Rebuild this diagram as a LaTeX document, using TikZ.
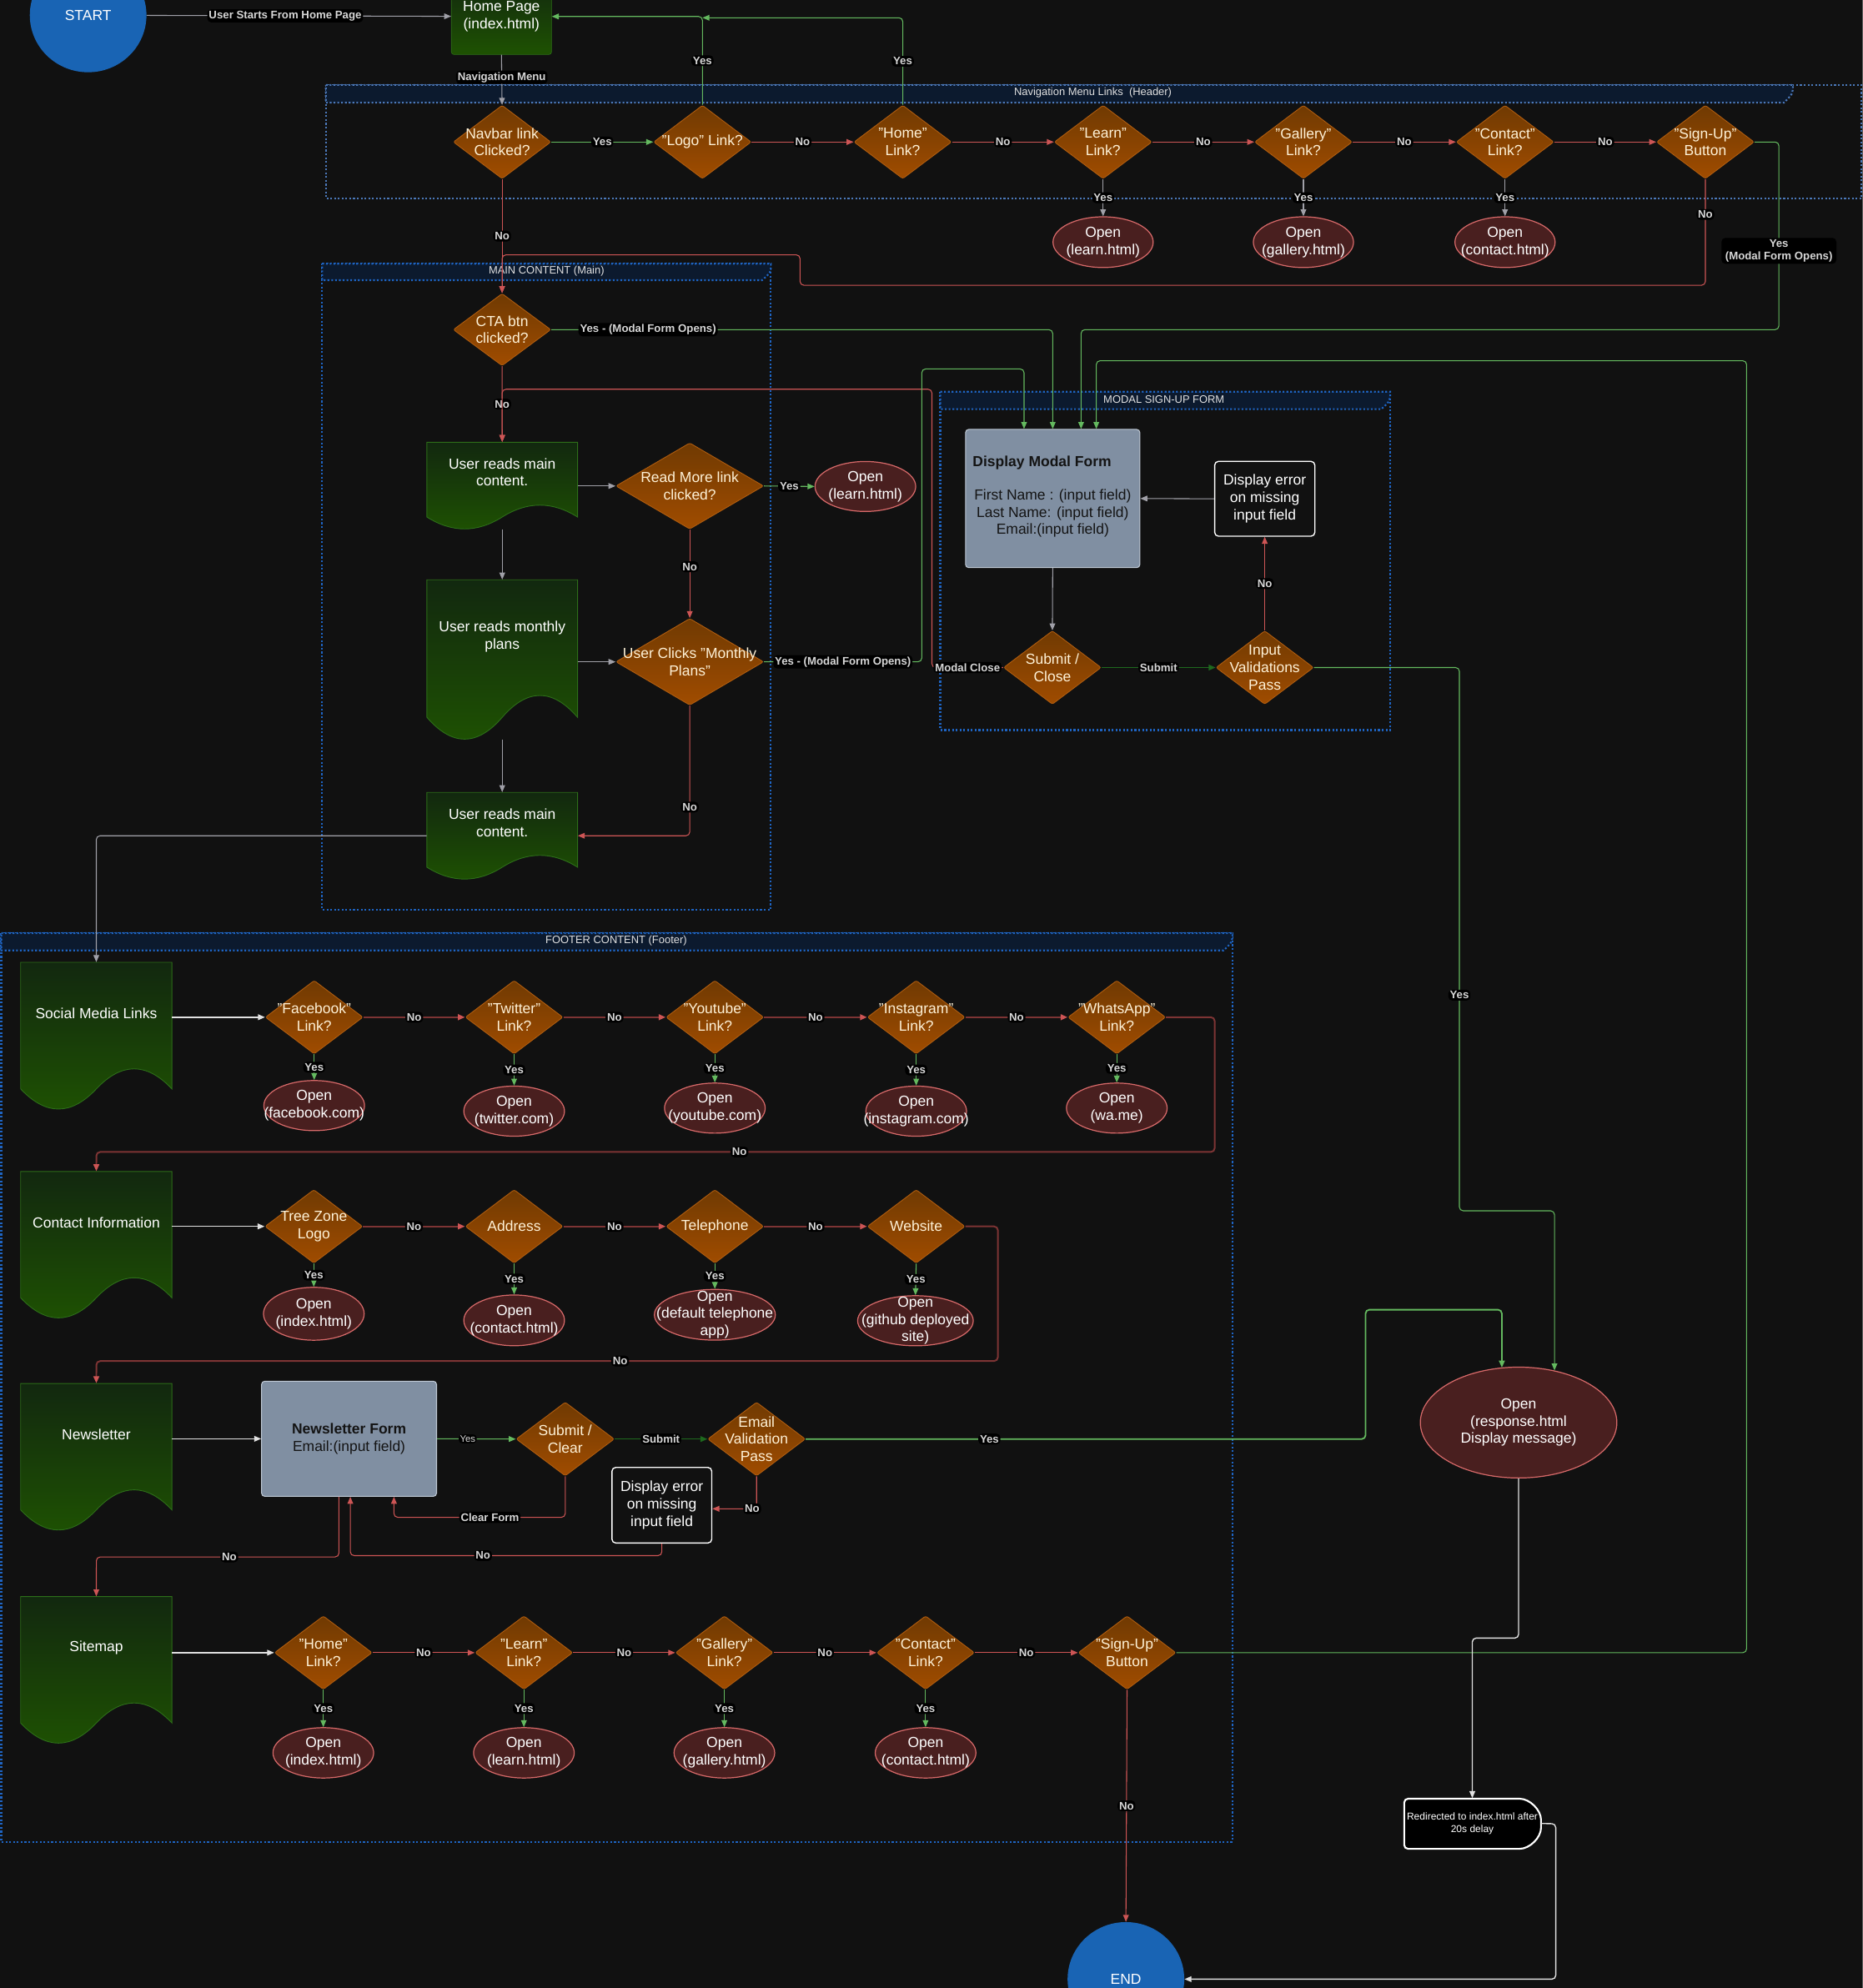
\documentclass[tikz,border=0pt]{standalone}
\usepackage{fontspec}
\setmainfont{Liberation Sans}
\usetikzlibrary{shapes.geometric,arrows.meta,calc}
\definecolor{bgc}{RGB}{17,17,17}
\definecolor{bluec}{RGB}{25,100,180}
\definecolor{contc}{RGB}{30,100,195}
\definecolor{contnav}{RGB}{75,120,185}
\definecolor{headc}{RGB}{12,26,46}
\definecolor{diatop}{RGB}{112,58,2}
\definecolor{diabot}{RGB}{160,76,0}
\definecolor{diabd}{RGB}{175,92,15}
\definecolor{diatx}{RGB}{255,242,215}
\definecolor{ofill}{RGB}{73,31,31}
\definecolor{obd}{RGB}{215,105,105}
\definecolor{doctop}{RGB}{18,40,15}
\definecolor{docbot}{RGB}{30,82,2}
\definecolor{docbd}{RGB}{45,110,25}
\definecolor{formc}{RGB}{128,143,162}
\definecolor{formbd}{RGB}{190,200,212}
\definecolor{darktx}{RGB}{20,20,20}
\definecolor{grayc}{RGB}{160,160,168}
\definecolor{whitec}{RGB}{225,225,225}
\definecolor{greenc}{RGB}{100,185,95}
\definecolor{dgreenc}{RGB}{30,105,30}
\definecolor{redc}{RGB}{205,85,85}
\definecolor{dredc}{RGB}{125,52,52}
\definecolor{lblc}{RGB}{215,215,215}
\newcommand\rsfont{\fontsize{11.5}{13.6}\selectfont}
\newcommand\rslfont{\bfseries\fontsize{8.7}{10.2}\selectfont}
\tikzset{
  conn/.style={line width=0.7pt, rounded corners=3pt},
  gline/.style={conn, draw=grayc, -{Triangle[length=5.5pt,width=4.5pt]}},
  wline/.style={conn, draw=whitec, line width=0.9pt, -{Triangle[length=5.5pt,width=4.5pt]}},
  grline/.style={conn, draw=greenc, -{Triangle[length=5.5pt,width=4.5pt]}},
  dgline/.style={conn, draw=dgreenc, line width=1pt, -{Triangle[length=5.5pt,width=4.5pt]}},
  rline/.style={conn, draw=redc, -{Triangle[length=5.5pt,width=4.5pt]}},
  drline/.style={conn, draw=dredc, line width=1.3pt, -{Triangle[length=5.5pt,width=4.5pt,color=redc]}},
  lbl/.style={fill=black, text=lblc, inner sep=1.2pt, font=\rslfont, align=center},
  lbltwo/.style={fill=black, text=lblc, inner sep=1pt, font=\fontsize{7.5}{8.5}\selectfont},
  cont/.style={draw=contc, line width=1.4pt, dash pattern=on 1.4pt off 1.6pt},
  head/.style={cont, fill=headc},
  ctitle/.style={text=whitec, font=\fontsize{8.5}{9.5}\selectfont, inner sep=0pt},
  diashape/.style={diamond, draw=diabd, top color=diatop, bottom color=diabot, inner sep=0pt, line width=0.6pt, rounded corners=1.5pt},
  diatext/.style={text=diatx, font=\rsfont, align=center, inner sep=0pt},
  oshape/.style={ellipse, draw=obd, fill=ofill, inner sep=0pt, line width=0.8pt},
  otext/.style={text=white, font=\rsfont, align=center, inner sep=0pt},
  docfill/.style={draw=docbd, top color=doctop, bottom color=docbot, line width=0.6pt},
  docanchor/.style={rectangle, inner sep=0pt},
  doctext/.style={text=white, font=\rsfont, align=center, inner sep=0pt},
  formbox/.style={rectangle, rounded corners=2.5pt, draw=formbd, fill=formc, inner sep=0pt, line width=0.7pt},
  errbox/.style={rectangle, rounded corners=3pt, draw=white, fill=bgc, line width=0.9pt, text=white, align=center, font=\rsfont, inner sep=0pt},
  term/.style={ellipse, fill=bluec, inner sep=0pt, text=white, font=\rsfont}
}
\newcommand\dnode[6]{%
  \node[diashape, minimum width=#4pt, minimum height=#5pt] (#1) at (#2,#3) {};
  \node[diatext] (#1-t) at (#1) {#6};}
\newcommand\onode[6]{%
  \node[oshape, minimum width=#4pt, minimum height=#5pt] (#1) at (#2,#3) {};
  \node[otext] (#1-t) at (#1) {#6};}
\newcommand\docnode[7]{%
  \pgfmathsetmacro\rsR{#2+#4}%
  \pgfmathsetmacro\rsS{#3+0.85*#5}%
  \pgfmathsetmacro\rsU{\rsS-0.18*#5}%
  \pgfmathsetmacro\rsD{\rsS+0.18*#5}%
  \pgfmathsetmacro\rsA{#2+#4*5/6}%
  \pgfmathsetmacro\rsB{#2+#4*2/3}%
  \pgfmathsetmacro\rsM{#2+#4/2}%
  \pgfmathsetmacro\rsC{#2+#4/3}%
  \pgfmathsetmacro\rsE{#2+#4/6}%
  \pgfmathsetmacro\rsY{#3+0.4925*#5}%
  \path[docfill] (#2,#3) -- (\rsR,#3) -- (\rsR,\rsS) .. controls (\rsA,\rsU) and (\rsB,\rsU) .. (\rsM,\rsS) .. controls (\rsC,\rsD) and (\rsE,\rsD) .. (#2,\rsS) -- cycle;
  \node[docanchor, minimum width=#4pt, minimum height=0.985*#5pt] (#1) at (\rsM,\rsY) {};
  \node[doctext] (#1-t) at (\rsM,#7) {#6};}
\begin{document}
\begin{tikzpicture}[x=1pt,y=-1pt]
\clip (0,0) rectangle (1469,1568);
\fill[bgc] (0,0) rectangle (1469,1568);

% ---------- containers ----------
\draw[cont, draw=contnav] (257,67) rectangle (1468,156.5);
\path[head, draw=contnav] (257,67) -- (1414,67) .. controls (1414,74) .. (1407,81) -- (257,81) -- cycle;
\node[ctitle] (navtitle) at (862,73) {Navigation Menu Links\ \ (Header)};

\draw[cont] (254,208) rectangle (608,717.5);
\path[head] (254,208) -- (608,208) .. controls (608,215) .. (601,221) -- (254,221) -- cycle;
\node[ctitle] (maintitle) at (431,214) {MAIN CONTENT (Main)};

\draw[cont] (741.6,309) rectangle (1096.5,575.8);
\path[head] (741.6,309) -- (1096.5,309) .. controls (1096.5,316) .. (1089.5,322.7) -- (741.6,322.7) -- cycle;
\node[ctitle] (modaltitle) at (918,315) {MODAL SIGN-UP FORM};

\draw[cont] (1,736) rectangle (972,1452.6);
\path[head] (1,736) -- (972,736) .. controls (972,743) .. (965,749.6) -- (1,749.6) -- cycle;
\node[ctitle] (foottitle) at (486,742) {FOOTER CONTENT (Footer)};

% ---------- top ----------
\node[term, minimum width=92pt, minimum height=90pt] (start) at (69.5,12) {START};
\node[rectangle, rounded corners=2pt, draw=docbd, top color=doctop, bottom color=docbot, minimum width=79pt, minimum height=60pt, inner sep=0pt, text=white, font=\rsfont, align=center] (hp) at (395.5,13) {Home Page\\(index.html)};

\dnode{nav}{396}{112}{77}{58}{Navbar link\\Clicked?}
\dnode{logo}{554}{112}{77}{58}{"Logo" Link?}
\dnode{home}{712}{112}{77}{58}{"Home"\\Link?}
\dnode{learn}{870}{112}{77}{58}{"Learn"\\Link?}
\dnode{gallery}{1028}{112}{77}{58}{"Gallery"\\Link?}
\dnode{contact}{1187}{112}{77}{58}{"Contact"\\Link?}
\dnode{signup}{1345}{112}{77}{58}{"Sign-Up"\\Button}
\onode{olearn}{870}{191}{79}{40}{Open\\(learn.html)}
\onode{ogallery}{1028}{191}{79}{40}{Open\\(gallery.html)}
\onode{ocontact}{1187}{191}{79}{40}{Open\\(contact.html)}

% ---------- main ----------
\dnode{cta}{396}{260}{77}{57}{CTA btn\\clicked?}
\docnode{doca}{336.7}{348.8}{118.8}{69.4}{User reads main\\content.}{372.5}
\docnode{docb}{336.7}{457.3}{118.8}{127.6}{User reads monthly\\plans}{502}
\docnode{docc}{336.7}{625}{118.8}{69.4}{User reads main\\content.}{649}
\dnode{rm}{544}{383.3}{116.5}{68}{Read More link\\clicked?}
\dnode{mp}{544}{522}{116.5}{68.4}{User Clicks "Monthly\\Plans"}
\onode{olearnb}{682.5}{383.7}{79.4}{39.4}{Open\\(learn.html)}

% ---------- modal ----------
\node[formbox, minimum width=137.5pt, minimum height=109pt] (modal) at (830.25,393.2) {};
\node[anchor=west, text=darktx, font=\bfseries\rsfont, inner sep=0pt] (modalta) at (767,365) {Display Modal Form};
\node[text=darktx, font=\rsfont, align=center, inner sep=0pt] (modaltb) at (830.25,405) {First Name : (input field)\\Last Name: (input field)\\Email:(input field)};
\node[errbox, minimum width=79pt, minimum height=59pt] (erra) at (997.5,393.4) {Display error\\on missing\\input field};
\dnode{sca}{830}{526.5}{77}{58}{Submit /\\Close}
\dnode{iv}{997.5}{526.5}{77}{58}{Input\\Validations\\Pass}

% ---------- footer: social ----------
\docnode{dsoc}{16.3}{759}{119.3}{117.5}{Social Media Links}{799.2}
\dnode{fb}{247.8}{802.3}{77}{58}{"Facebook"\\Link?}
\dnode{tw}{405.5}{802.3}{77}{58}{"Twitter"\\Link?}
\dnode{yt}{563.8}{802.3}{77}{58}{"Youtube"\\Link?}
\dnode{ig}{722.6}{802.3}{77}{58}{"Instagram"\\Link?}
\dnode{wa}{880.8}{802.3}{77}{58}{"WhatsApp"\\Link?}
\onode{ofb}{247.8}{872}{79.4}{39.5}{Open\\(facebook.com)}
\onode{otw}{405.5}{876.4}{79.4}{39.5}{Open\\(twitter.com)}
\onode{oyt}{563.8}{874}{79.4}{39.5}{Open\\(youtube.com)}
\onode{oig}{722.6}{876.4}{79.4}{39.5}{Open\\(instagram.com)}
\onode{owa}{880.8}{874}{79.4}{39.5}{Open\\(wa.me)}

% ---------- footer: contact ----------
\docnode{dcon}{16.3}{924}{119.3}{117.2}{Contact Information}{964.5}
\dnode{tz}{247.5}{967.3}{77}{58}{Tree Zone\\Logo}
\dnode{addr}{405.5}{967.3}{77}{58}{Address}
\dnode{tel}{563.8}{967.3}{77}{58}{Telephone}
\dnode{web}{722.6}{967.3}{77}{58}{Website}
\onode{otz}{247.5}{1036.2}{79.4}{41.7}{Open\\(index.html)}
\onode{oaddr}{405.5}{1041.4}{79.4}{40}{Open\\(contact.html)}
\onode{otel}{563.8}{1037}{95.4}{40}{Open\\(default telephone\\app)}
\onode{oweb}{722}{1041.7}{91.2}{39.5}{Open\\(github deployed\\site)}

% ---------- footer: newsletter ----------
\docnode{dnews}{16.3}{1091.2}{119.3}{117.3}{Newsletter}{1131.5}
\node[formbox, minimum width=138pt, minimum height=90.8pt, text=darktx, font=\rsfont, align=center] (nform) at (275.3,1134.8) {\textbf{Newsletter Form}\\Email:(input field)};
\dnode{scb}{445.8}{1135}{77.4}{58.2}{Submit /\\Clear}
\dnode{ev}{596.7}{1135}{77}{58.2}{Email\\Validation\\Pass}
\node[errbox, minimum width=78.7pt, minimum height=59.6pt] (errb) at (522,1187.2) {Display error\\on missing\\input field};

% ---------- footer: sitemap ----------
\docnode{dsite}{16.3}{1259.3}{119.3}{117.3}{Sitemap}{1299.9}
\dnode{shome}{255}{1303.5}{77}{58}{"Home"\\Link?}
\dnode{slearn}{413.2}{1303.5}{77}{58}{"Learn"\\Link?}
\dnode{sgal}{571.3}{1303.5}{77}{58}{"Gallery"\\Link?}
\dnode{scon}{730}{1303.5}{77}{58}{"Contact"\\Link?}
\dnode{ssign}{888.9}{1303.5}{77}{58}{"Sign-Up"\\Button}
\onode{oshome}{255}{1382.5}{79.4}{39.7}{Open\\(index.html)}
\onode{oslearn}{413.2}{1382.5}{79.4}{39.7}{Open\\(learn.html)}
\onode{osgal}{571.3}{1382.5}{79.4}{39.7}{Open\\(gallery.html)}
\onode{oscon}{730}{1382.5}{79.4}{39.7}{Open\\(contact.html)}

% ---------- right side ----------
\node[oshape, minimum width=155pt, minimum height=87.4pt] (resp) at (1197.7,1122) {};
\node[otext] (resptx) at (resp) {Open\\(response.html\\Display message)};
\filldraw[draw=white, fill=black, line width=1.4pt, rounded corners=3pt] (1195.5,1418.7) .. controls (1206.5,1418.7) and (1215.4,1427.5) .. (1215.4,1438.45) .. controls (1215.4,1449.4) and (1206.5,1458.2) .. (1195.5,1458.2) -- (1107.5,1458.2) -- (1107.5,1418.7) -- cycle;
\node[inner sep=0pt, minimum width=108pt, minimum height=39.5pt, text=white, font=\fontsize{7.9}{9.8}\selectfont, align=center] (redirect) at (1161.2,1438.2) {Redirected to index.html after\\20s delay};
\node[term, minimum width=92pt, minimum height=90pt] (endn) at (888,1561) {END};

\coordinate (mIna) at ($(modal.north west)+(46.5,0)$);
\coordinate (mInc) at ($(modal.north west)+(91.5,0)$);
\coordinate (mInd) at ($(modal.north west)+(103.5,0)$);
\coordinate (jn) at (554,14);

% ---------- connectors: top ----------
\draw[gline] (start) -- node[lbl,pos=0.455] (la) {User Starts From Home Page} (hp);
\draw[gline] (hp.south) -- node[lbl,pos=0.45] (lb) {Navigation Menu} (nav.north);
\draw[grline] (nav.east) -- node[lbl] (lc) {Yes} (logo.west);
\draw[rline] (logo.east) -- node[lbl] (ld) {No} (home.west);
\draw[rline] (home.east) -- node[lbl] (le) {No} (learn.west);
\draw[rline] (learn.east) -- node[lbl] (lf) {No} (gallery.west);
\draw[rline] (gallery.east) -- node[lbl] (lg) {No} (contact.west);
\draw[rline] (contact.east) -- node[lbl] (lh) {No} (signup.west);
\draw[grline] (logo.north) |- node[lbl,pos=0.25] (li) {Yes} (hp.east);
\draw[grline] (home.north) |- node[lbl,pos=0.25] (lj) {Yes} (jn);
\draw[gline] (learn.south) -- node[lbl] (lk) {Yes} (olearn.north);
\draw[gline] (gallery.south) -- node[lbl] (ll) {Yes} (ogallery.north);
\draw[gline] (contact.south) -- node[lbl] (lm) {Yes} (ocontact.north);
\draw[rline] (nav.south) -- node[lbl] (ln) {No} (cta.north);
\draw[rline] (signup.south) -- node[lbl,pos=0.333] (lo) {No} (1345,225) -- (631,225) -- (631,201) -- (396,201) -- (cta.north);
\draw[grline] (signup.east) -- (1403,112) -- node[lbl,pos=0.58,inner xsep=3pt] (lp) {Yes\\(Modal Form Opens)} (1403,260) -| (mInc);

% ---------- connectors: main ----------
\draw[grline] (cta.east) -- node[lbl,pos=0.193] (lq) {Yes - (Modal Form Opens)} (cta.east -| modal.north) -- (modal.north);
\draw[rline] (cta.south) -- node[lbl] (lr) {No} (doca.north);
\draw[rline] (sca.west) -- node[lbl] (ls) {Modal Close} (735,526.5) -- (735,307) -- (396,307) -- (doca.north);
\draw[gline] (doca.east |- rm.west) -- (rm.west);
\draw[grline] (rm.east) -- node[lbl] (lt) {Yes} (olearnb.west);
\draw[rline] (rm.south) -- node[lbl,pos=0.42] (lu) {No} (mp.north);
\draw[gline] (doca.south) -- (docb.north);
\draw[gline] (docb.east |- mp.west) -- (mp.west);
\draw[gline] (docb.south) -- (docc.north);
\draw[rline] (mp.south) |- node[lbl,pos=0.39] (lv) {No} (docc.east);
\draw[grline] (mp.east) -- node[lbl] (lw) {Yes - (Modal Form Opens)} (727,522) -- (727,291) -| (mIna);
\draw[gline] (docc.west) -| (dsoc.north);

% ---------- connectors: modal ----------
\draw[gline] (erra.west) -- (modal.east);
\draw[gline] (modal.south) -- (sca.north);
\draw[dgline] (sca.east) -- node[lbl] (lx) {Submit} (iv.west);
\draw[rline] (iv.north) -- node[lbl] (ly) {No} (erra.south);
\draw[grline] (iv.east) -- (1151,526.5) -- node[lbl,pos=0.603] (lz) {Yes} (1151,955) -| ($(resp.north)+(28.3,3)$);

% ---------- connectors: social ----------
\draw[wline] (dsoc.east |- fb.west) -- (fb.west);
\draw[drline] (fb.east) -- node[lbl] (sa) {No} (tw.west);
\draw[drline] (tw.east) -- node[lbl] (sb) {No} (yt.west);
\draw[drline] (yt.east) -- node[lbl] (sc) {No} (ig.west);
\draw[drline] (ig.east) -- node[lbl] (sd) {No} (wa.west);
\draw[grline] (fb.south) -- node[lbl] (se) {Yes} (ofb.north);
\draw[grline] (tw.south) -- node[lbl] (sf) {Yes} (otw.north);
\draw[grline] (yt.south) -- node[lbl] (sg) {Yes} (oyt.north);
\draw[grline] (ig.south) -- node[lbl] (sh) {Yes} (oig.north);
\draw[grline] (wa.south) -- node[lbl] (si) {Yes} (owa.north);
\draw[drline] (wa.east) -- (958,802.3) -- (958,908.6) -- node[lbl,pos=0.425] (sj) {No} (76,908.6) -- (dcon.north);

% ---------- connectors: contact ----------
\draw[wline] (dcon.east |- tz.west) -- (tz.west);
\draw[drline] (tz.east) -- node[lbl] (ca) {No} (addr.west);
\draw[drline] (addr.east) -- node[lbl] (cb) {No} (tel.west);
\draw[drline] (tel.east) -- node[lbl] (cc) {No} (web.west);
\draw[grline] (tz.south) -- node[lbl] (cd) {Yes} (otz.north);
\draw[grline] (addr.south) -- node[lbl] (ce) {Yes} (oaddr.north);
\draw[grline] (tel.south) -- node[lbl] (cf) {Yes} (otel.north);
\draw[grline] (web.south) -- node[lbl] (cg) {Yes} (oweb.north);
\draw[drline] (web.east) -- (787,967.3) -- (787,1073.5) -- node[lbl,pos=0.419] (ch) {No} (76,1073.5) -- (dnews.north);

% ---------- connectors: newsletter ----------
\draw[wline] (dnews.east |- nform.west) -- (nform.west);
\draw[grline] (nform.east) -- node[lbltwo,pos=0.39] (na) {Yes} (scb.west);
\draw[dgline] (scb.east) -- node[lbl] (nb) {Submit} (ev.west);
\draw[grline, line width=1.2pt] (ev.east) -- node[lbl,pos=0.328] (nc) {Yes} (1077,1135) -- (1077,1033) -| ($(resp.north)+(-13.2,0.8)$);
\draw[rline] (ev.south) |- node[lbl,pos=0.55] (nd) {No} ([yshift=-2.8pt]errb.east);
\draw[rline] (scb.south) |- node[lbl,pos=0.72] (ne) {Clear Form} ($(nform.south)+(35.4,16.2)$) -- ($(nform.south)+(35.4,0)$);
\draw[rline] (errb.south) |- node[lbl,pos=0.787] (nf) {No} ($(nform.south)+(1,46.4)$) -- ($(nform.south)+(1,0)$);
\draw[rline] ($(nform.south)+(-8,0)$) |- node[lbl,pos=0.726] (ng) {No} (76,1228) -- (dsite.north);

% ---------- connectors: sitemap ----------
\draw[wline] (dsite.east |- shome.west) -- (shome.west);
\draw[rline] (shome.east) -- node[lbl] (ma) {No} (slearn.west);
\draw[rline] (slearn.east) -- node[lbl] (mb) {No} (sgal.west);
\draw[rline] (sgal.east) -- node[lbl] (mc) {No} (scon.west);
\draw[rline] (scon.east) -- node[lbl] (md) {No} (ssign.west);
\draw[grline] (shome.south) -- node[lbl] (me) {Yes} (oshome.north);
\draw[grline] (slearn.south) -- node[lbl] (mf) {Yes} (oslearn.north);
\draw[grline] (sgal.south) -- node[lbl] (mg) {Yes} (osgal.north);
\draw[grline] (scon.south) -- node[lbl] (mh) {Yes} (oscon.north);
\draw[grline] (ssign.east) -- (1377.5,1303.5) -- (1377.5,284.5) -| (mInd);
\draw[rline] (ssign.south) -- node[lbl] (mi) {No} (endn.north);

% ---------- connectors: end ----------
\draw[wline] (resp.south) -- (1197.7,1292) -| (redirect.north);
\draw[wline] (redirect.east) -- (1227,1438.45) |- (endn.east);
\end{tikzpicture}
\end{document}
